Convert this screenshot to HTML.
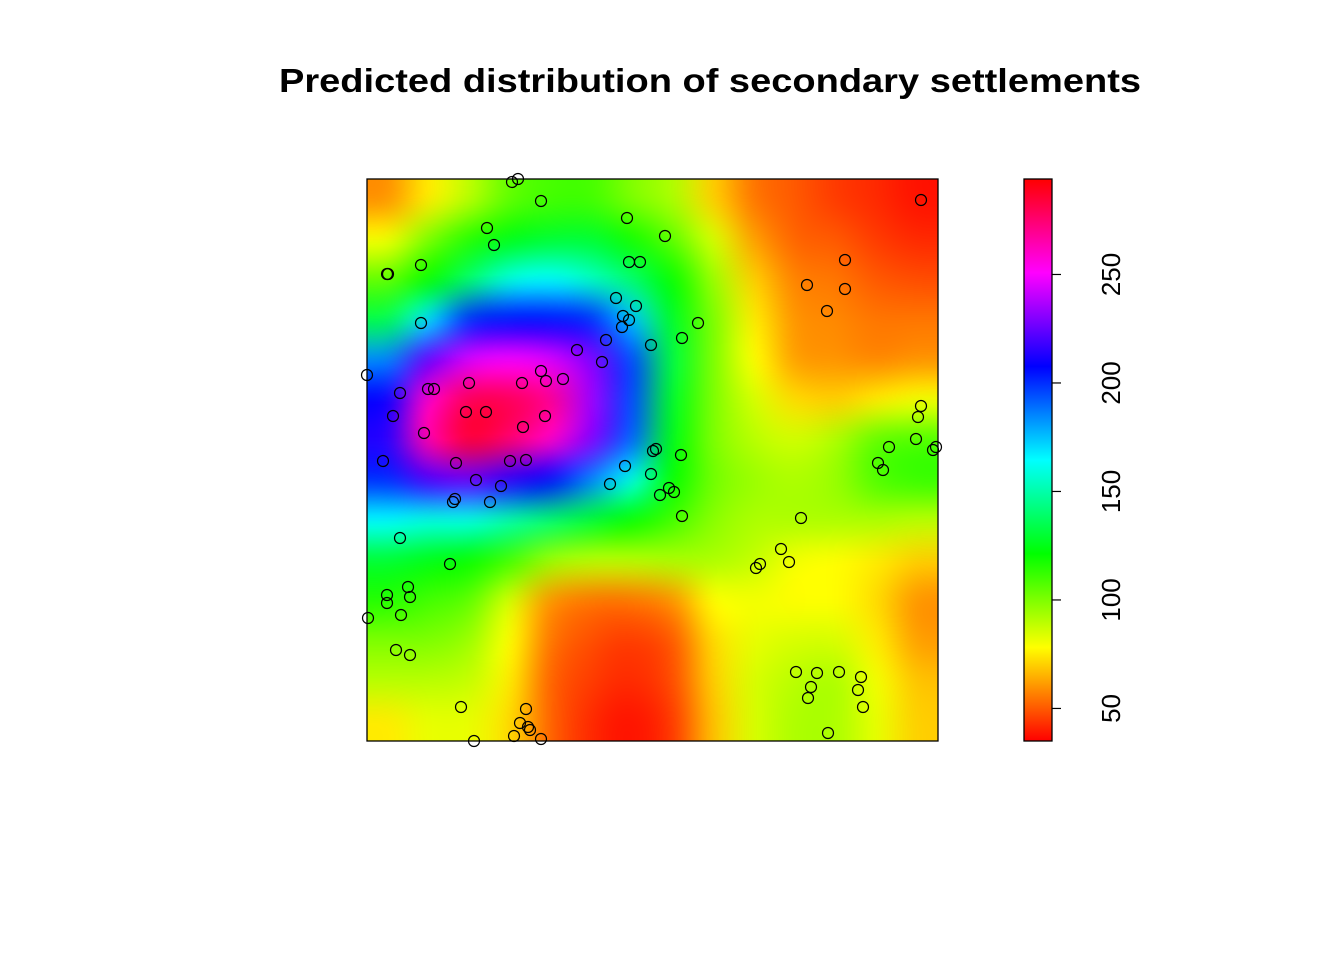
<!DOCTYPE html>
<html><head><meta charset="utf-8">
<style>
html,body{margin:0;padding:0;background:#fff;}
#wrap{position:relative;width:1344px;height:960px;overflow:hidden;background:#fff;}
#heat{position:absolute;left:367px;top:179px;width:571px;height:562px;}
svg{position:absolute;left:0;top:0;}
text{font-family:"Liberation Sans",Arial,sans-serif;}
</style></head>
<body>
<div id="wrap">
<canvas id="heat" width="571" height="562"></canvas>
<svg id="svg" width="1344" height="960" xmlns="http://www.w3.org/2000/svg">
<text x="710" y="92" text-anchor="middle" font-size="33" font-weight="bold" textLength="862" lengthAdjust="spacingAndGlyphs">Predicted distribution of secondary settlements</text>
</svg>
</div>
<script>
// Heatmap grid values (rows top->bottom, columns left->right)
const gridRows = [
[60,75,90,105,110,110,100,92,70,55,50,45,42,38],
[80,100,115,125,130,130,118,105,85,62,52,50,45,42],
[105,120,140,160,165,155,140,120,95,70,57,55,50,48],
[135,170,200,205,205,200,175,128,100,75,60,58,55,55],
[185,225,245,250,245,230,195,132,100,78,62,60,58,60],
[210,260,280,280,270,235,195,128,100,85,72,70,75,80],
[215,265,285,275,260,230,190,125,100,90,86,92,105,108],
[200,220,225,215,205,185,160,120,102,95,92,96,108,112],
[165,160,160,150,140,130,120,110,98,92,92,92,92,90],
[130,125,120,110,95,90,90,92,92,88,80,78,75,70],
[115,110,105,85,60,55,55,60,78,80,78,78,72,60],
[100,100,95,78,55,48,45,50,72,82,85,85,75,62],
[90,90,88,75,52,45,42,48,70,85,90,92,80,68],
[75,82,82,72,52,42,38,45,68,85,92,92,82,70]
];
// Observed settlement points (x, y in plot data units: 0..571 horizontal, 0..562 vertical from bottom)
const pointX = [145,151,174,554,260,120,298,127,262,273,54,20,21,478,440,478,249,269,256,262,255,460,54,331,315,239,284,210,235,0,174,102,155,196,179,61,67,33,554,551,26,99,119,178,156,57,549,522,569,566,289,286,314,16,143,159,89,258,511,516,284,109,243,134,302,307,293,86,88,123,315,434,33,414,393,422,389,83,41,20,43,20,34,1,29,43,429,450,472,494,444,491,441,496,94,159,153,161,163,147,174,107,461];
const pointY = [559,562,540,541,523,513,505,496,479,479,476,467,467,481,456,452,443,435,425,421,414,430,418,418,403,401,396,391,379,366,370,358,358,362,360,352,352,348,335,324,325,329,329,325,314,308,302,294,294,291,292,290,286,280,280,281,278,275,278,271,267,261,257,255,253,249,246,239,242,239,225,223,203,192,177,179,173,177,154,146,144,138,126,123,91,86,69,68,69,64,54,51,43,34,34,32,18,14,11,5,2,0,8];
// Colorbar ticks
const cbTicks = [50,100,150,200,250];
const cbTickLabels = ["50","100","150","200","250"];

const vMin = 35, vMax = 294;
const plotL = 367, plotT = 179, plotW = 571, plotH = 562;
const xDomain = [0,571], yDomain = [0,562];
function xScale(v){ return plotL + (v - xDomain[0]) / (xDomain[1]-xDomain[0]) * plotW; }
function yScale(v){ return plotT + plotH - (v - yDomain[0]) / (yDomain[1]-yDomain[0]) * plotH; }
const cbL = 1024, cbT = 179, cbW = 28, cbH = 562;
function cbScale(v){ return cbT + cbH - (v - vMin) / (vMax - vMin) * cbH; }
function hueColor(v){
  let t = (v - vMin) / (vMax - vMin); t = Math.max(0, Math.min(1, t));
  let h = t * 6, i = Math.floor(h) % 6, f = h - Math.floor(h);
  let r,g,b;
  const q = 1 - f;
  switch(i){case 0:r=1;g=f;b=0;break;case 1:r=q;g=1;b=0;break;case 2:r=0;g=1;b=f;break;
    case 3:r=0;g=q;b=1;break;case 4:r=f;g=0;b=1;break;default:r=1;g=0;b=q;}
  return [Math.round(r*255),Math.round(g*255),Math.round(b*255)];
}
const nR = gridRows.length, nC = gridRows[0].length;
const small = document.createElement('canvas');
small.width = nC; small.height = nR;
const sctx = small.getContext('2d');
const img = sctx.createImageData(nC, nR);
for (let r=0;r<nR;r++) for (let c=0;c<nC;c++){
  const col = hueColor(gridRows[r][c]); const k=(r*nC+c)*4;
  img.data[k]=col[0]; img.data[k+1]=col[1]; img.data[k+2]=col[2]; img.data[k+3]=255;
}
sctx.putImageData(img,0,0);
const hctx = document.getElementById('heat').getContext('2d');
hctx.imageSmoothingEnabled = true; hctx.imageSmoothingQuality = 'high';
hctx.drawImage(small, 0, 0, nC, nR, 0, 0, plotW, plotH);

const svg = document.getElementById('svg');
const NS = 'http://www.w3.org/2000/svg';
function mk(tag, attrs){ const e=document.createElementNS(NS,tag); for(const k in attrs) e.setAttribute(k, attrs[k]); svg.appendChild(e); return e; }

const border = mk('rect',{x:plotL,y:plotT,width:plotW,height:plotH,fill:'none',stroke:'#000','stroke-width':1.3});



for (let i=0;i<pointX.length;i++){
  const p = mk('circle',{cx:xScale(pointX[i]),cy:yScale(pointY[i]),r:5.5,fill:'none',stroke:'#000','stroke-width':1.2});
  
  
}

const defs = mk('defs',{});
const lg = document.createElementNS(NS,'linearGradient');
lg.setAttribute('id','cbg'); lg.setAttribute('x1','0'); lg.setAttribute('y1','1'); lg.setAttribute('x2','0'); lg.setAttribute('y2','0');
for (let s=0;s<=60;s++){
  const v = vMin + (vMax-vMin)*s/60; const c = hueColor(v);
  const st = document.createElementNS(NS,'stop');
  st.setAttribute('offset', (s/60).toFixed(4));
  st.setAttribute('stop-color', `rgb(${c[0]},${c[1]},${c[2]})`);
  lg.appendChild(st);
}
defs.appendChild(lg);
const cb = mk('rect',{x:cbL,y:cbT,width:cbW,height:cbH,fill:'url(#cbg)',stroke:'#000','stroke-width':1.3});


for (let i=0;i<cbTicks.length;i++){
  const y = cbScale(cbTicks[i]);
  const t = mk('line',{x1:cbL+cbW,x2:cbL+cbW+9,y1:y,y2:y,stroke:'#000','stroke-width':1.2});
  
  
  const tx = mk('text',{x:0,y:0,'font-size':26,'text-anchor':'middle',transform:`translate(1120,${y}) rotate(-90)`});
  tx.textContent = cbTickLabels[i];
  
  
}
</script>
</body></html>
